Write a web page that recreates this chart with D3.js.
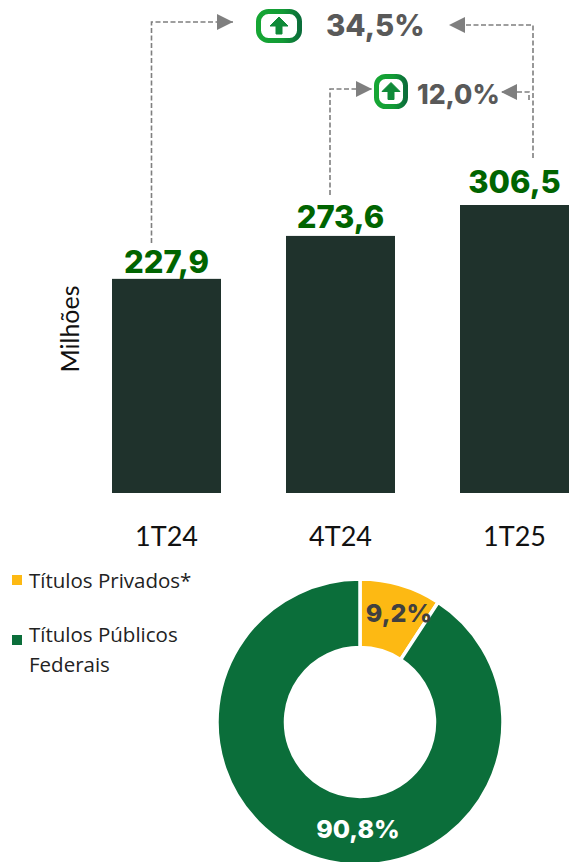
<!DOCTYPE html>
<html>
<head>
<meta charset="utf-8">
<script src="https://cdn.jsdelivr.net/npm/d3@7"></script>
<style>
  html, body { margin: 0; padding: 0; background: #fff; }
  svg { display: block; }
</style>
</head>
<body>
<svg id="chart" width="572" height="862"></svg>
<script>
const categories = ['1T24', '4T24', '1T25'];
const barValues = [227.9, 273.6, 306.5];
const growthLabels = ['34,5%', '12,0%'];
const shareNames = ['Títulos Privados*', 'Títulos Públicos Federais'];
const shareValues = [9.2, 90.8];

const svg = d3.select('#chart');
const ptBR = d3.formatLocale({ decimal: ',', thousands: '.', grouping: [3], currency: ['R$', ''] });
const fmt = ptBR.format('.1f');

const valueFont = 'Inter, sans-serif';
const gray = '#7f7f7f';

// bars
const x = d3.scaleBand().domain(categories).range([112, 569]).paddingInner(0.3736).paddingOuter(0);
const y = d3.scaleLinear().domain([0, d3.max(barValues)]).range([493, 205]);
const bars = categories.map((c, i) => ({ c, v: barValues[i] }));

svg.selectAll('.bar').data(bars).enter().append('rect')
  .attr('class', 'bar')
  .attr('x', d => x(d.c))
  .attr('y', d => y(d.v))
  .attr('width', x.bandwidth())
  .attr('height', d => y(0) - y(d.v))
  .attr('fill', '#1f322c');

// labels do not sit at the same distance above each bar in the original
const labelLift = [6, 8, 12];
svg.selectAll('.bar-label').data(bars).enter().append('text')
  .attr('class', 'bar-label')
  .attr('x', d => x(d.c) + x.bandwidth() / 2)
  .attr('y', (d, i) => y(d.v) - labelLift[i])
  .attr('text-anchor', 'middle')
  .style('font', `800 31px ${valueFont}`)
  .attr('fill', '#006400')
  .text(d => fmt(d.v));

const xAxis = svg.append('g')
  .attr('transform', 'translate(0,518)')
  .call(d3.axisBottom(x).tickSize(0).tickPadding(0));
xAxis.select('.domain').remove();
xAxis.selectAll('text')
  .attr('dy', 0).attr('y', 28)
  .style('font', '27px Lato, sans-serif')
  .attr('fill', '#111');

svg.append('text')
  .attr('transform', 'translate(79,329) rotate(-90)')
  .attr('text-anchor', 'middle')
  .style('font', '25px Lato, sans-serif')
  .attr('fill', '#111')
  .text('Milhões');

// growth annotations
const defs = svg.append('defs');
defs.append('marker')
  .attr('id', 'tip').attr('viewBox', '0 0 16 16')
  .attr('refX', 16).attr('refY', 8)
  .attr('markerWidth', 16).attr('markerHeight', 16)
  .attr('markerUnits', 'userSpaceOnUse')
  .attr('orient', 'auto')
  .append('path').attr('d', 'M0,0L16,8L0,16Z').attr('fill', gray);

const grad = defs.append('linearGradient').attr('id', 'iconGrad');
grad.append('stop').attr('offset', '0%').attr('stop-color', '#16a634');
grad.append('stop').attr('offset', '60%').attr('stop-color', '#129a36');
grad.append('stop').attr('offset', '100%').attr('stop-color', '#0b6e3a');

const connectors = [
  [[151.5, 243], [151.5, 22], [233, 22]],
  [[330, 195], [330, 89], [372, 89]],
  [[533, 158], [533, 25], [449, 25]],
  [[529, 100], [529, 92], [501, 92]]
];
const line = d3.line();
svg.selectAll('.connector').data(connectors).enter().append('path')
  .attr('class', 'connector')
  .attr('d', line)
  .attr('fill', 'none')
  .attr('stroke', gray)
  .attr('stroke-width', 1.6)
  .attr('stroke-dasharray', '5 2.5')
  .attr('marker-end', 'url(#tip)');

function icon(left, top, w, h, r) {
  const g = svg.append('g').attr('transform', `translate(${left},${top})`);
  g.append('rect')
    .attr('x', 2.5).attr('y', 2.5).attr('width', w - 5).attr('height', h - 5).attr('rx', r)
    .attr('fill', '#fff').attr('stroke', 'url(#iconGrad)').attr('stroke-width', 5);
  const cx = w / 2, cy = h / 2;
  g.append('path')
    .attr('d', `M${cx},${cy - 9}L${cx + 9},${cy}L${cx + 3},${cy}L${cx + 3},${cy + 8}L${cx - 3},${cy + 8}L${cx - 3},${cy}L${cx - 9},${cy}Z`)
    .attr('fill', '#0f8a38').attr('stroke', '#0f8a38').attr('stroke-width', 1).attr('stroke-linejoin', 'round');
}
icon(256, 9, 46, 34, 10);
icon(374, 74, 34, 35, 9);

svg.append('text').attr('x', 326).attr('y', 36)
  .style('font', `800 29.5px ${valueFont}`).attr('fill', '#595959').text(growthLabels[0]);
svg.append('text').attr('x', 417).attr('y', 104)
  .style('font', `800 26.5px ${valueFont}`).attr('fill', '#595959').text(growthLabels[1]);

// donut
const shareColors = d3.scaleOrdinal().domain(shareNames).range(['#fdb913', '#0b6e3a']);
const pie = d3.pie().sort(null);
const arc = d3.arc().innerRadius(74.5).outerRadius(143);
const donut = svg.append('g').attr('transform', 'translate(360,722)');

donut.selectAll('path').data(pie(shareValues)).enter().append('path')
  .attr('d', arc)
  .attr('fill', (d, i) => shareColors(shareNames[i]))
  .attr('stroke', '#fff')
  .attr('stroke-width', 3.5);

const shareLabel = ptBR.format('.1f');
donut.append('text').attr('x', 39).attr('y', -100)
  .attr('text-anchor', 'middle')
  .style('font', `800 25px ${valueFont}`).attr('fill', '#404040')
  .text(shareLabel(shareValues[0]) + '%');
donut.append('text').attr('x', -2).attr('y', 116)
  .attr('text-anchor', 'middle')
  .style('font', `800 25px ${valueFont}`).attr('fill', '#fff')
  .text(shareLabel(shareValues[1]) + '%');

// legend
const legendFont = '20.5px "Open Sans", sans-serif';
svg.append('rect').attr('x', 12).attr('y', 575).attr('width', 10).attr('height', 10).attr('fill', shareColors(shareNames[0]));
svg.append('rect').attr('x', 12).attr('y', 635).attr('width', 10).attr('height', 10).attr('fill', shareColors(shareNames[1]));
svg.append('text').attr('x', 29).attr('y', 588).style('font', legendFont).attr('fill', '#222').text(shareNames[0]);
const lg = svg.append('text').style('font', legendFont).attr('fill', '#222');
lg.append('tspan').attr('x', 29).attr('y', 642).text('Títulos Públicos');
lg.append('tspan').attr('x', 29).attr('y', 672).text('Federais');
</script>
</body>
</html>
